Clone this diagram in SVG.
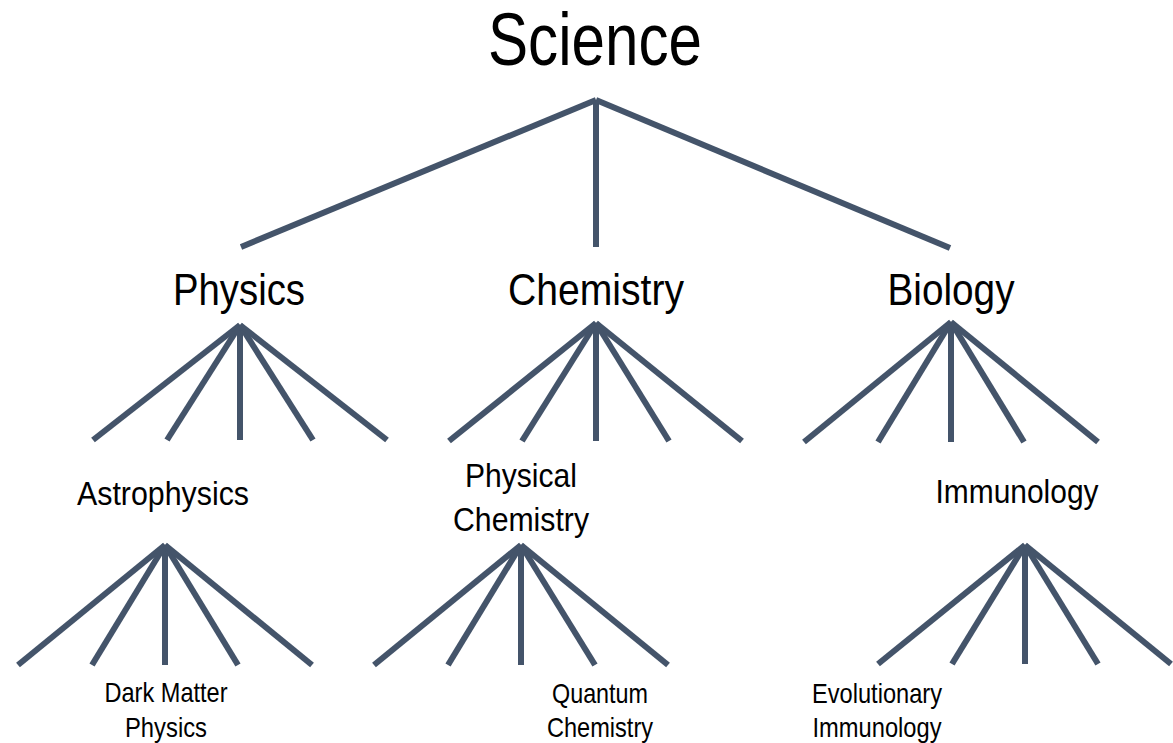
<svg xmlns="http://www.w3.org/2000/svg" width="1173" height="743" viewBox="0 0 1173 743">
<style>
.c line{stroke:#44546A;stroke-width:6;stroke-linecap:butt;fill:none}
text{font-family:"Liberation Sans",Arial,sans-serif;fill:#000;text-anchor:middle}
.l0{font-size:74px}
.l1{font-size:45px}
.l2{font-size:33px}
.l3{font-size:28px}
</style>
<rect width="1173" height="743" fill="#fff"/>
<g class="c" id="connectors">
<line x1="596" y1="100" x2="241" y2="247"/>
<line x1="596" y1="100" x2="596" y2="247"/>
<line x1="596" y1="100" x2="950" y2="248"/>
<line x1="240" y1="325" x2="93" y2="440"/>
<line x1="240" y1="325" x2="167" y2="440"/>
<line x1="240" y1="325" x2="240" y2="440"/>
<line x1="240" y1="325" x2="313" y2="440"/>
<line x1="240" y1="325" x2="387" y2="440"/>
<line x1="596" y1="323" x2="449" y2="441"/>
<line x1="596" y1="323" x2="522" y2="441"/>
<line x1="596" y1="323" x2="596" y2="441"/>
<line x1="596" y1="323" x2="669" y2="441"/>
<line x1="596" y1="323" x2="742" y2="441"/>
<line x1="951" y1="322" x2="804" y2="442"/>
<line x1="951" y1="322" x2="878" y2="442"/>
<line x1="951" y1="322" x2="951" y2="442"/>
<line x1="951" y1="322" x2="1024" y2="442"/>
<line x1="951" y1="322" x2="1098" y2="442"/>
<line x1="165" y1="545" x2="18" y2="665"/>
<line x1="165" y1="545" x2="92" y2="665"/>
<line x1="165" y1="545" x2="165" y2="665"/>
<line x1="165" y1="545" x2="238" y2="665"/>
<line x1="165" y1="545" x2="312" y2="665"/>
<line x1="521" y1="545" x2="374" y2="665"/>
<line x1="521" y1="545" x2="448" y2="665"/>
<line x1="521" y1="545" x2="521" y2="665"/>
<line x1="521" y1="545" x2="595" y2="665"/>
<line x1="521" y1="545" x2="668" y2="665"/>
<line x1="1025" y1="545" x2="878" y2="664"/>
<line x1="1025" y1="545" x2="952" y2="664"/>
<line x1="1025" y1="545" x2="1025" y2="664"/>
<line x1="1025" y1="545" x2="1098" y2="664"/>
<line x1="1025" y1="545" x2="1171" y2="664"/>
</g>
<g id="science"><text class="l0" x="595" y="65" textLength="214" lengthAdjust="spacingAndGlyphs">Science</text></g>
<g id="physics"><text class="l1" x="239" y="305" textLength="132" lengthAdjust="spacingAndGlyphs">Physics</text></g>
<g id="chemistry"><text class="l1" x="596" y="305" textLength="176" lengthAdjust="spacingAndGlyphs">Chemistry</text></g>
<g id="biology"><text class="l1" x="951" y="305" textLength="127" lengthAdjust="spacingAndGlyphs">Biology</text></g>
<g id="astrophysics"><text class="l2" x="163" y="505" textLength="172" lengthAdjust="spacingAndGlyphs">Astrophysics</text></g>
<g id="physical-chemistry"><text class="l2" x="521" y="487" textLength="112" lengthAdjust="spacingAndGlyphs">Physical</text><text class="l2" x="521" y="531" textLength="136" lengthAdjust="spacingAndGlyphs">Chemistry</text></g>
<g id="immunology"><text class="l2" x="1017" y="503" textLength="163" lengthAdjust="spacingAndGlyphs">Immunology</text></g>
<g id="dark-matter"><text class="l3" x="166" y="702" textLength="123" lengthAdjust="spacingAndGlyphs">Dark Matter</text><text class="l3" x="166" y="737" textLength="82" lengthAdjust="spacingAndGlyphs">Physics</text></g>
<g id="quantum-chemistry"><text class="l3" x="600" y="703" textLength="96" lengthAdjust="spacingAndGlyphs">Quantum</text><text class="l3" x="600" y="737" textLength="106" lengthAdjust="spacingAndGlyphs">Chemistry</text></g>
<g id="evolutionary-immunology"><text class="l3" x="877" y="703" textLength="130" lengthAdjust="spacingAndGlyphs">Evolutionary</text><text class="l3" x="877" y="737" textLength="129" lengthAdjust="spacingAndGlyphs">Immunology</text></g>
</svg>
